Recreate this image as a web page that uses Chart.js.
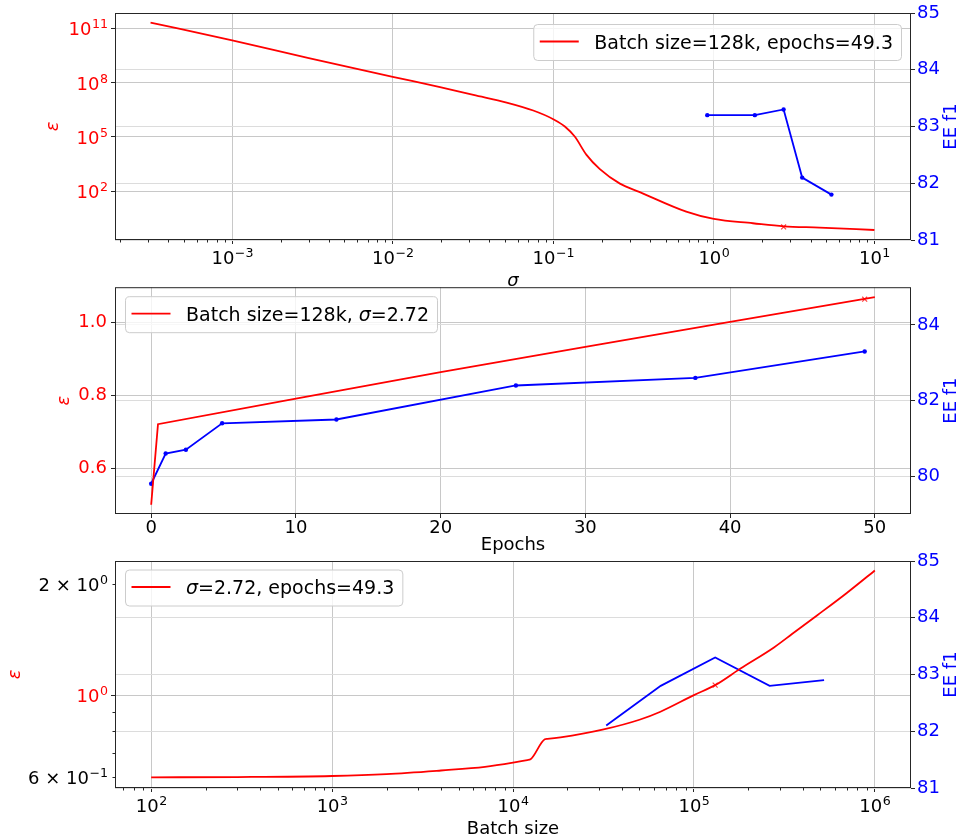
<!DOCTYPE html>
<html lang="en">
<head>
<meta charset="UTF-8">
<title>Epsilon and EE f1</title>
<script src="https://cdn.jsdelivr.net/npm/chart.js"></script>
<style>
    html, body { margin: 0; padding: 0; background: #fff; }
    .wrap { position: relative; width: 961px; height: 838px; overflow: hidden; }
    canvas { position: absolute; left: 0; }
</style>
</head>
<body>
<div class="wrap">
    <canvas id="sigmaChart" width="961" height="290" style="top:0px"></canvas>
    <canvas id="epochChart" width="961" height="278" style="top:282px"></canvas>
    <canvas id="batchChart" width="961" height="293" style="top:545px"></canvas>
</div>

<script>
// --- panel 1: epsilon / EE f1 against sigma (batch 128k, 49.3 epochs)
const sigmaGrid  = [3.1e-4, 1e-3, 3e-3, 1e-2, 0.0197, 0.0318, 0.0512, 0.075, 0.1, 0.118, 0.136, 0.161, 0.195, 0.26, 0.346, 0.673, 1, 1.75, 2.72, 4.55, 10];
const epsBySigma = [2.1e11, 2.2e10, 2.3e9, 2.1e8, 5.7e7, 2.1e7, 8.0e6, 2.9e6, 9.6e5, 3.8e5, 1.05e5, 1.02e4, 1.66e3, 263, 89, 7.43, 2.93, 1.70, 1.15, 0.98, 0.72];
const sigmaRuns  = [0.91, 1.8, 2.72, 3.55, 5.4];
const f1BySigma  = [83.2, 83.2, 83.3, 82.1, 81.8];
const sigmaPick  = 2.72;

// --- panel 2: against epochs (batch 128k, sigma 2.72)
const epochGrid  = [0, 0.47, 10, 20, 30, 40, 50];
const epsByEpoch = [0.50, 0.721, 0.791, 0.864, 0.933, 1.002, 1.07];
const epochRuns  = [0, 1, 2.4, 4.9, 12.8, 25.2, 37.6, 49.3];
const f1ByEpoch  = [79.8, 80.6, 80.7, 81.4, 81.5, 82.4, 82.6, 83.3];
const epochPick  = 49.3;

// --- panel 3: against batch size (sigma 2.72, 49.3 epochs)
const batchGrid  = [100, 300, 1000, 2000, 4000, 7000, 10000, 12000, 12500, 15000, 15500, 18300, 31700, 50000, 65300, 100000, 131072, 181000, 277000, 350000, 481000, 700000, 1000000];
const epsByBatch = [0.600, 0.601, 0.605, 0.612, 0.626, 0.640, 0.657, 0.668, 0.671, 0.760, 0.762, 0.769, 0.808, 0.858, 0.902, 1.0, 1.064, 1.18, 1.345, 1.464, 1.643, 1.887, 2.17];
const batchRuns  = [32768, 65536, 131072, 262144, 524288];
const f1ByBatch  = [82.1, 82.8, 83.3, 82.8, 82.9];
const batchPick  = 131072;
const epsPick    = 1.064;

// tick values and labels
const sigmaTicks    = [1e-3, 1e-2, 1e-1, 1, 10];
const sigmaTickExp  = ['−3', '−2', '−1', '0', '1'];
const epsTicks1     = [1e2, 1e5, 1e8, 1e11];
const epsTickExp1   = ['2', '5', '8', '11'];
const epochTicks    = [0, 10, 20, 30, 40, 50];
const epsTicks2     = [0.6, 0.8, 1.0];
const f1Ticks2      = [80, 82, 84];
const f1Ticks       = [81, 82, 83, 84, 85];
const batchTicks    = [1e2, 1e3, 1e4, 1e5, 1e6];
const batchTickExp  = ['2', '3', '4', '5', '6'];
const epsTicks3     = [1];
const epsMinor3     = [0.6, 0.7, 0.8, 0.9, 2];
const epsLabels3    = [[0.6, '6 × 10', '−1', '#000'], [1, '10', '0', '#ff0000'], [2, '2 × 10', '0', '#000']];

const RED = '#ff0000';
const BLUE = '#0000ff';
const INK = '#262626';
const FONT = '"DejaVu Sans"';

Chart.defaults.font.family = 'DejaVu Sans';
Chart.defaults.font.size = 18;
Chart.defaults.animation = false;
Chart.defaults.events = [];
Chart.defaults.plugins.legend.display = false;
Chart.defaults.plugins.tooltip.enabled = false;

const pts = (xs, ys) => xs.map((x, i) => ({ x: x, y: ys[i] }));
const fixedTicks = vals => s => { s.ticks = vals.map(v => ({ value: v })); };
// fixed axis box, and no extra room asked for labels at the ends
const sized = (w, h) => s => {
    if (w != null) s.width = w;
    if (h != null) s.height = h;
    s.paddingTop = 0; s.paddingBottom = 0; s.paddingLeft = 0; s.paddingRight = 0;
};
const grid = color => ({ color: color, lineWidth: 1, drawTicks: true, tickLength: 4, tickColor: INK, tickWidth: 1 });

function logMinors(min, max) {
    const out = [];
    for (let e = Math.floor(Math.log10(min)); e <= Math.ceil(Math.log10(max)); e++) {
        for (let m = 2; m <= 9; m++) {
            const v = m * Math.pow(10, e);
            if (v >= min && v <= max) out.push(v);
        }
    }
    return out;
}

function f1Axis(min, max, ticks) {
    return {
        type: 'linear', position: 'right', min: min, max: max,
        afterBuildTicks: fixedTicks(ticks), afterFit: sized(50, null),
        grid: grid('#dcdcdc'), border: { display: false },
        ticks: { color: BLUE, padding: 2, callback: v => String(v) }
    };
}

// "10" with a raised exponent, like matplotlib mathtext
function powLabel(ctx, base, exp, x, y, align, color) {
    ctx.font = '18px ' + FONT;
    const wb = ctx.measureText(base).width;
    ctx.font = '12.6px ' + FONT;
    const we = ctx.measureText(exp).width;
    const x0 = align === 'center' ? x - (wb + we) / 2 : x - wb - we;
    ctx.fillStyle = color;
    ctx.textAlign = 'left';
    ctx.textBaseline = 'alphabetic';
    ctx.font = '18px ' + FONT;
    ctx.fillText(base, x0, y);
    ctx.font = '12.6px ' + FONT;
    ctx.fillText(exp, x0 + wb + 0.5, y - 7);
}

function drawLegend(ctx, a, ds, corner, dy) {
    const fs = 19;
    const parts = ds.label.split(/(σ)/).filter(Boolean);
    const fonts = parts.map(p => (p === 'σ' ? 'italic ' : '') + fs + 'px ' + FONT);
    let tw = 0;
    parts.forEach((p, i) => { ctx.font = fonts[i]; tw += ctx.measureText(p).width; });
    const w = 6.5 + 39 + 15.5 + tw + 8, h = 36;
    const x = corner === 'ur' ? a.right - 10 - w : a.left + 10;
    const y = a.top + dy;
    ctx.beginPath();
    ctx.roundRect(x + 0.5, y + 0.5, w, h, 4);
    ctx.fillStyle = 'rgba(255,255,255,0.8)';
    ctx.fill();
    ctx.strokeStyle = '#cccccc';
    ctx.lineWidth = 1;
    ctx.stroke();
    ctx.beginPath();
    ctx.moveTo(x + 6.5, y + 17.5);
    ctx.lineTo(x + 45.5, y + 17.5);
    ctx.strokeStyle = ds.borderColor;
    ctx.lineWidth = ds.borderWidth;
    ctx.stroke();
    let tx = x + 61;
    ctx.fillStyle = '#000';
    ctx.textAlign = 'left';
    ctx.textBaseline = 'alphabetic';
    parts.forEach((p, i) => { ctx.font = fonts[i]; ctx.fillText(p, tx, y + 24.5); tx += ctx.measureText(p).width; });
}

// frame, minor ticks, exponent labels, axis titles and legend
function deco(cfg) {
    return {
        id: 'deco',
        beforeDraw(chart) {
            const { ctx, chartArea: a } = chart;
            ctx.save();
            ctx.fillStyle = '#fff';
            ctx.fillRect(a.left, a.top, a.right - a.left, a.bottom - a.top);
            ctx.restore();
        },
        afterDraw(chart) {
            const { ctx, chartArea: a } = chart;
            ctx.save();
            ctx.strokeStyle = INK;
            ctx.lineWidth = 1;
            ctx.strokeRect(a.left + 0.5, a.top + 0.5, a.right - a.left - 1, a.bottom - a.top - 1);

            (cfg.minor || []).forEach(m => {
                const s = chart.scales[m.axis];
                ctx.beginPath();
                m.values.forEach(v => {
                    const p = Math.round(s.getPixelForValue(v)) + 0.5;
                    if (s.isHorizontal()) { ctx.moveTo(p, a.bottom); ctx.lineTo(p, a.bottom + 2.5); }
                    else { ctx.moveTo(a.left, p); ctx.lineTo(a.left - 2.5, p); }
                });
                ctx.stroke();
            });

            (cfg.powers || []).forEach(g => {
                const s = chart.scales[g.axis];
                g.items.forEach(([v, base, exp, color]) => {
                    const p = s.getPixelForValue(v);
                    if (s.isHorizontal()) powLabel(ctx, base, exp, p, a.bottom + 24, 'center', color);
                    else powLabel(ctx, base, exp, a.left - 7.5, p + 7, 'right', color);
                });
            });

            const cx = (a.left + a.right) / 2, cy = (a.top + a.bottom) / 2;
            ctx.fillStyle = '#000';
            ctx.textAlign = 'center';
            ctx.textBaseline = 'alphabetic';
            ctx.font = (cfg.xItalic ? 'italic ' : '') + '18px ' + FONT;
            ctx.fillText(cfg.xTitle, cx, a.bottom + cfg.xDy);

            ctx.textBaseline = 'middle';
            ctx.save();
            ctx.translate(cfg.yX, cy);
            ctx.rotate(-Math.PI / 2);
            ctx.fillStyle = RED;
            ctx.font = 'italic 18px ' + FONT;
            ctx.fillText('ε', 0, 0);
            ctx.restore();
            ctx.save();
            ctx.translate(951, cy);
            ctx.rotate(-Math.PI / 2);
            ctx.fillStyle = BLUE;
            ctx.font = '18px ' + FONT;
            ctx.fillText('EE f1', 0, 0);
            ctx.restore();

            drawLegend(ctx, a, chart.data.datasets[0], cfg.legend, cfg.legendDy);
            ctx.restore();
        }
    };
}

function baseOptions(padTop, scales) {
    return {
        responsive: false,
        devicePixelRatio: 1,
        layout: { padding: { top: padTop, left: 0, right: 0, bottom: 0 } },
        scales: scales
    };
}

function redLine(label, xs, ys, smooth) {
    return {
        label: label, data: pts(xs, ys), yAxisID: 'y',
        borderColor: RED, borderWidth: 1.8, pointRadius: 0, fill: false,
        cubicInterpolationMode: smooth ? 'monotone' : 'default', tension: 0
    };
}

function pickMark(x, y) {
    return {
        label: 'pick', data: [{ x: x, y: y }], yAxisID: 'y', showLine: false,
        pointStyle: 'crossRot', pointRadius: 3.5, borderColor: 'rgba(255,0,0,0.75)',
        pointBorderWidth: 1.2, backgroundColor: 'rgba(255,0,0,0.75)'
    };
}

function blueLine(xs, ys, dots) {
    return {
        label: 'EE f1', data: pts(xs, ys), yAxisID: 'y1',
        borderColor: BLUE, borderWidth: 1.8, fill: false, tension: 0,
        pointRadius: dots ? 2.2 : 0, pointBorderWidth: 0, pointBackgroundColor: BLUE
    };
}

// panel 1
const sx = [Math.pow(10, -3.73), Math.pow(10, 1.228)];
new Chart(document.getElementById('sigmaChart'), {
    type: 'line',
    data: { datasets: [
        redLine('Batch size=128k, epochs=49.3', sigmaGrid, epsBySigma, true),
        pickMark(sigmaPick, epsPick),
        blueLine(sigmaRuns, f1BySigma, true)
    ] },
    options: baseOptions(13, {
        x: { type: 'logarithmic', min: sx[0], max: sx[1], afterBuildTicks: fixedTicks(sigmaTicks), afterFit: sized(null, 50),
             grid: grid('#c8c8c8'), border: { display: false }, ticks: { display: false } },
        y: { type: 'logarithmic', position: 'left', min: Math.pow(10, -0.695), max: Math.pow(10, 11.85),
             afterBuildTicks: fixedTicks(epsTicks1), afterFit: sized(115, null),
             grid: grid('#c8c8c8'), border: { display: false }, ticks: { display: false } },
        y1: f1Axis(81, 85, f1Ticks)
    }),
    plugins: [deco({
        minor: [{ axis: 'x', values: logMinors(sx[0], sx[1]) }],
        powers: [
            { axis: 'x', items: sigmaTicks.map((v, i) => [v, '10', sigmaTickExp[i], '#000']) },
            { axis: 'y', items: epsTicks1.map((v, i) => [v, '10', epsTickExp1[i], RED]) }
        ],
        xTitle: 'σ', xItalic: true, xDy: 46, yX: 53, legend: 'ur', legendDy: 11
    })]
});

// panel 2
new Chart(document.getElementById('epochChart'), {
    type: 'line',
    data: { datasets: [
        redLine('Batch size=128k, σ=2.72', epochGrid, epsByEpoch, false),
        pickMark(epochPick, epsPick),
        blueLine(epochRuns, f1ByEpoch, true)
    ] },
    options: baseOptions(4, {
        x: { type: 'linear', min: -2.5, max: 52.5, afterBuildTicks: fixedTicks(epochTicks), afterFit: sized(null, 46),
             grid: grid('#c8c8c8'), border: { display: false }, ticks: { color: '#000', padding: 0 } },
        y: { type: 'linear', position: 'left', min: 0.4745, max: 1.097,
             afterBuildTicks: fixedTicks(epsTicks2), afterFit: sized(115, null),
             grid: grid('#c8c8c8'), border: { display: false },
             ticks: { color: RED, padding: 4, callback: v => v.toFixed(1) } },
        y1: f1Axis(79, 85, f1Ticks2)
    }),
    plugins: [deco({ xTitle: 'Epochs', xItalic: false, xDy: 35.7, yX: 64.5, legend: 'ul', legendDy: 9 })]
});

// panel 3
const bx = [Math.pow(10, 1.8), Math.pow(10, 6.2)];
new Chart(document.getElementById('batchChart'), {
    type: 'line',
    data: { datasets: [
        redLine('σ=2.72, epochs=49.3', batchGrid, epsByBatch, true),
        pickMark(batchPick, epsPick),
        blueLine(batchRuns, f1ByBatch, false)
    ] },
    options: baseOptions(16, {
        x: { type: 'logarithmic', min: bx[0], max: bx[1], afterBuildTicks: fixedTicks(batchTicks), afterFit: sized(null, 50),
             grid: grid('#c8c8c8'), border: { display: false }, ticks: { display: false } },
        y: { type: 'logarithmic', position: 'left', min: Math.pow(10, -0.2507), max: Math.pow(10, 0.362),
             afterBuildTicks: fixedTicks(epsTicks3), afterFit: sized(115, null),
             grid: grid('#c8c8c8'), border: { display: false }, ticks: { display: false } },
        y1: f1Axis(81, 85, f1Ticks)
    }),
    plugins: [deco({
        minor: [{ axis: 'x', values: logMinors(bx[0], bx[1]) }, { axis: 'y', values: epsMinor3 }],
        powers: [
            { axis: 'x', items: batchTicks.map((v, i) => [v, '10', batchTickExp[i], '#000']) },
            { axis: 'y', items: epsLabels3 }
        ],
        xTitle: 'Batch size', xItalic: false, xDy: 45.5, yX: 15, legend: 'ul', legendDy: 8.5
    })]
});
</script>
</body>
</html>
